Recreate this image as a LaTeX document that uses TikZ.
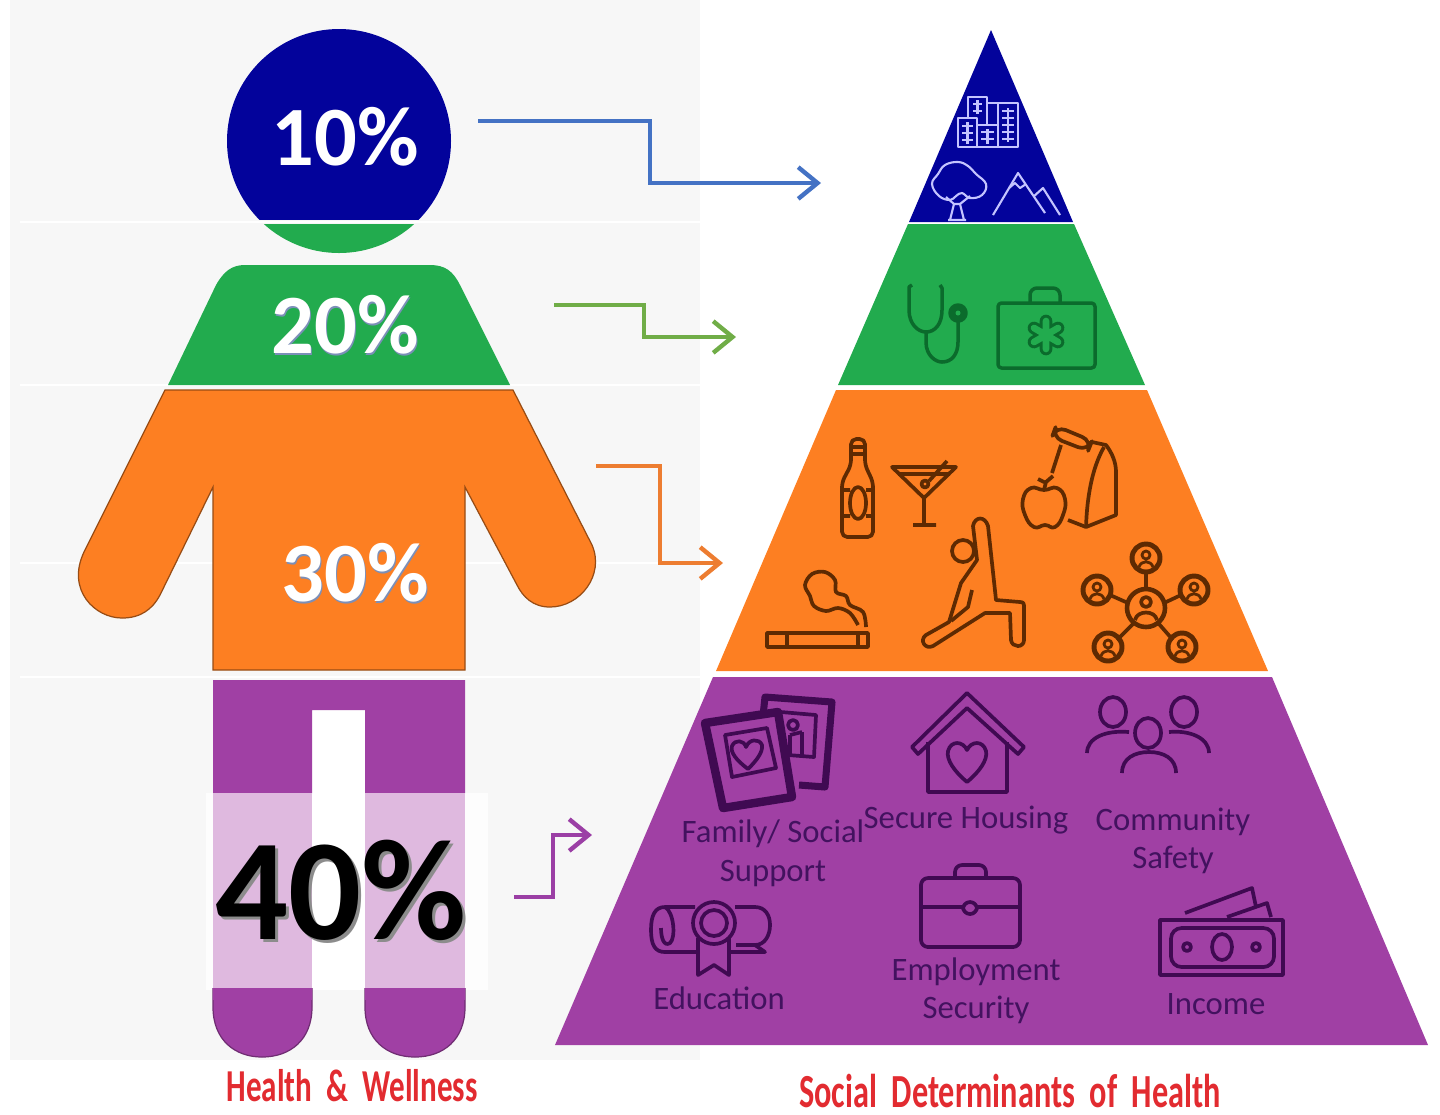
\documentclass[tikz,border=0pt]{standalone}
\usepackage{fontspec}
\setmainfont{Carlito}
\newfontfamily\titlefont[FakeStretch=0.68,WordSpace=2]{Carlito}
\usetikzlibrary{arrows.meta}
\definecolor{navy}{HTML}{03039B}
\definecolor{leaf}{HTML}{22AB4E}
\definecolor{tang}{HTML}{FD7F22}
\definecolor{plum}{HTML}{A040A4}
\definecolor{pale}{HTML}{DFB9DF}
\definecolor{bgrey}{HTML}{F7F7F7}
\definecolor{lilac}{HTML}{C4C4FF}
\definecolor{darkleaf}{HTML}{0B6B2C}
\definecolor{darktang}{HTML}{5E2A02}
\definecolor{darkplum}{HTML}{400A52}
\definecolor{textplum}{HTML}{43125F}
\definecolor{shadeblue}{HTML}{7C8FB8}
\definecolor{titlered}{HTML}{E22B30}
\definecolor{arrowblue}{HTML}{4472C4}
\definecolor{arrowgreen}{HTML}{70AD47}
\definecolor{arroworange}{HTML}{ED7D31}
\definecolor{arrowplum}{HTML}{9B3FA5}
\tikzset{
  rim/.style={line width=0.35pt},
  pct/.style={font=\fontsize{24}{24}\selectfont\bfseries,text=white},
  pctshade/.style={font=\fontsize{24}{24}\selectfont\bfseries,text=shadeblue},
  lbl/.style={font=\fontsize{9.3}{10}\selectfont,text=textplum},
  ttl/.style={font=\titlefont\fontsize{13.5}{14}\selectfont\bfseries,text=titlered},
  elbow/.style={line width=1.25pt,-{Straight Barb[length=5.5pt,width=9pt,line width=1.25pt]}},
  iconw/.style={lilac,line width=0.6pt,line join=round},
  icong/.style={darkleaf,line width=1pt,line join=round},
  icono/.style={darktang,line width=1.05pt,line join=round},
  iconp/.style={darkplum,line width=1.05pt,line join=round}
}
\begin{document}
\begin{tikzpicture}[x=0.01cm,y=-0.01cm]
\useasboundingbox (0,0) rectangle (1440,1114);

% backdrop of the figure
\fill[bgrey] (10,0) rectangle (700,1060);
\fill[white!70!bgrey] (206,793) rectangle (488,990);
\fill[white] (312,710) rectangle (365,990);
\draw[white,line width=0.6pt] (20,222) -- (700,222);
\draw[white,line width=0.6pt] (20,385) -- (700,385);
\draw[white,line width=0.6pt] (20,563) -- (700,563);
\draw[white,line width=0.6pt] (20,677) -- (700,677);

% head
\begin{scope}
\clip (339,141) circle (112);
\fill[navy] (220,20) rectangle (460,220);
\fill[leaf] (220,224) rectangle (460,260);
\end{scope}

% shoulders
\fill[leaf] (168,385) -- (216,285) .. controls (224,271) and (232,265) .. (245,265) -- (430,265) .. controls (445,265) and (453,271) .. (460,285) -- (510,385) -- cycle;

% body and arms
\filldraw[fill=tang,draw=tang!60!black,rim] (165,390) -- (84,552)
  .. controls (66,590) and (95,618) .. (122,618)
  .. controls (140,618) and (152,610) .. (160,595)
  -- (213,487) -- (213,670) -- (465,670) -- (465,487) -- (517,585)
  .. controls (523,597) and (533,607) .. (550,607)
  .. controls (580,607) and (605,575) .. (592,545)
  -- (513,390) -- cycle;

% legs
\fill[plum] (213,680) -- (465,680) -- (465,793) -- (365,793) -- (365,710) -- (312,710) -- (312,793) -- (213,793) -- cycle;
\fill[pale] (213,793) rectangle (312,988);
\fill[pale] (365,793) rectangle (465,988);
\filldraw[fill=plum,draw=plum!70!black,rim] (213,988) -- (213,1007) .. controls (213,1040) and (235,1057) .. (262,1057) .. controls (290,1057) and (312,1040) .. (312,1007) -- (312,988);
\filldraw[fill=plum,draw=plum!70!black,rim] (365,988) -- (365,1007) .. controls (365,1040) and (387,1057) .. (415,1057) .. controls (443,1057) and (465,1040) .. (465,1007) -- (465,988);
\fill[plum] (213,988) rectangle (312,1000);
\fill[plum] (365,988) rectangle (465,1000);

% percentages
\node[pct] (pctten) at (345,137) {10\%};
\node[pctshade] (shadetwenty) at (346.5,327) {20\%};
\node[pct] (pcttwenty) at (345,325) {20\%};
\node[pctshade] (shadethirty) at (356.5,575) {30\%};
\node[pct] (pctthirty) at (355,573) {30\%};
\node[font=\fontsize{41}{41}\selectfont\bfseries,text=black!45] (shadeforty) at (344,893) {40\%};
\node[font=\fontsize{41}{41}\selectfont\bfseries] (pctforty) at (341,890) {40\%};

% pyramid
\fill[navy] (991,30) -- (1073,222) -- (909,222) -- cycle;
\fill[leaf] (908,224) -- (1074,224) -- (1145,385) -- (838,385) -- cycle;
\fill[tang] (836,390) -- (1147,390) -- (1268,671) -- (716,671) -- cycle;
\fill[plum] (713,677) -- (1272,677) -- (1428,1045) -- (555,1045) -- cycle;

% connectors
\coordinate (tenout) at (478,121);
\coordinate (tenbend) at (650,183);
\coordinate (tenin) at (821,183);
\coordinate (twentyout) at (554,305);
\coordinate (twentybend) at (644,337);
\coordinate (twentyin) at (736,337);
\coordinate (thirtyout) at (596,466);
\coordinate (thirtybend) at (660,563);
\coordinate (thirtyin) at (723,563);
\coordinate (fortyout) at (514,897);
\coordinate (fortybend) at (553,835);
\coordinate (fortyin) at (592,835);
\draw[elbow,arrowblue] (tenout) -| (tenbend) -- (tenin);
\draw[elbow,arrowgreen] (twentyout) -| (twentybend) -- (twentyin);
\draw[elbow,arroworange] (thirtyout) -| (thirtybend) -- (thirtyin);
\draw[elbow,arrowplum] (fortyout) -| (fortybend) -- (fortyin);

% buildings
\draw[iconw] (968,118) -- (968,97) -- (987,97) -- (987,103) -- (998,103);
\draw[iconw] (973,104) -- (982,104) (973,111) -- (982,111) (977.5,100) -- (977.5,114);
\draw[iconw] (987,103) -- (987,125);
\draw[iconw] (998,125) -- (998,103) -- (1018,103) -- (1018,147) -- (958,147) -- (958,118) -- (977,118) -- (977,147);
\draw[iconw] (977,125) -- (998,125) -- (998,147);
\draw[iconw] (962,126) -- (973,126) (962,133) -- (973,133) (962,140) -- (973,140) (967.5,122) -- (967.5,144);
\draw[iconw] (981,132) -- (994,132) (981,139) -- (994,139) (987.5,129) -- (987.5,144);
\draw[iconw] (1002,111) -- (1014,111) (1002,118) -- (1014,118) (1002,125) -- (1014,125) (1002,132) -- (1014,132) (1002,139) -- (1014,139);
\draw[iconw] (1008,108) -- (1008,142);

% tree and mountains
\draw[iconw] plot[smooth cycle,tension=0.7] coordinates {(950,200) (939,196) (932,184) (938,174) (945,165) (958,162) (968,166) (976,174) (986,184) (982,195) (970,198) (962,193) (956,196)};
\draw[iconw] (950,220) -- (954,204) -- (946,197) (964,220) -- (960,204) -- (970,196) (954,204) -- (960,204) (948,220) -- (966,220);
\draw[iconw] (993,215) -- (1018,173) -- (1045,213) (1033,197) -- (1043,188) -- (1060,215);
\draw[iconw] (1009,188) -- (1015,183) -- (1020,188) -- (1026,184);

% stethoscope
\draw[icong] (912,285) -- (909,287) -- (909,310) .. controls (909,324) and (918,332) .. (926,332) .. controls (935,332) and (942,324) .. (942,310) -- (942,288) -- (940,285);
\draw[icong] (926,332) -- (926,342) .. controls (926,356) and (936,362) .. (942,362) .. controls (952,362) and (958,354) .. (958,342) -- (958,322);
\filldraw[icong,fill=darkleaf] (958,313) circle (8);
\fill[leaf] (958,313) circle (2.5);

% medical bag
\draw[icong,rounded corners=1pt] (998,303) rectangle (1095,368);
\draw[icong,rounded corners=2pt] (1030,303) -- (1030,288) -- (1060,288) -- (1060,303);
\draw[darkleaf,line width=3.6pt,line cap=round] (1046,321) -- (1046,349) (1034,328) -- (1058,342) (1034,342) -- (1058,328);
\draw[leaf,line width=1.9pt,line cap=round] (1046,321) -- (1046,349) (1034,328) -- (1058,342) (1034,342) -- (1058,328);

% bottle and glass
\draw[icono,rounded corners=1.5pt] (851,439) -- (865,439) -- (865,465) -- (873,482) -- (873,537) -- (842,537) -- (842,482) -- (851,465) -- cycle;
\draw[icono] (851,447) -- (865,447) (851,454) -- (865,454);
\draw[icono] (858,503) ellipse (8 and 16) (842,490) -- (850,490) (866,490) -- (873,490) (842,516) -- (850,516) (866,516) -- (873,516);
\draw[icono] (892,467) -- (956,467) -- (924,498) -- cycle (898,474) -- (950,474);
\draw[icono] (924,498) -- (924,525) (913,525) -- (936,525) (947,461) -- (929,481);
\draw[icono] (925,484) circle (3.5);

% apple and lunch bag
\draw[icono] plot[smooth cycle,tension=0.8] coordinates {(1044,490) (1057,488) (1065,499) (1063,515) (1055,527) (1045,525) (1034,527) (1025,515) (1023,499) (1031,488)};
\draw[icono] (1044,490) -- (1046,482) -- (1053,476) (1044,482) -- (1038,479);
\draw[icono,rounded corners=3pt] (1056,426) -- (1092,441) -- (1088,451) -- (1052,437) -- cycle;
\draw[icono] (1061,445) -- (1052,473);
\draw[icono] (1092,442) -- (1106,445) .. controls (1112,453) and (1116,462) .. (1116,472) -- (1116,515) -- (1086,527) -- (1068,520);
\draw[icono] (1104,447) .. controls (1092,468) and (1087,497) .. (1086,527);

% yoga figure
\draw[icono] (963,551) circle (11);
\draw[icono] (973,526) .. controls (975,516) and (985,516) .. (988,526) -- (996,600) -- (1020,602) .. controls (1024,602) and (1024,604) .. (1024,608) -- (1024,640) .. controls (1024,648) and (1012,648) .. (1011,640) -- (1010,613) -- (985,613) -- (933,646) .. controls (925,650) and (919,640) .. (926,635) -- (949,622) -- (961,583) -- (977,560) -- cycle;
\draw[icono] (972,590) -- (968,607) -- (951,621);

% cigarette
\draw[icono] (767,633) rectangle (868,647);
\draw[icono] (787,633) -- (787,647) (858,633) -- (858,647);
\draw[icono] plot[smooth,tension=0.6] coordinates {(866,627) (863,612) (850,605) (846,596) (836,592) (835,580) (825,572) (812,574) (805,585) (810,596) (814,606) (826,611) (838,608) (850,613) (858,625)};

% network of people
\draw[icono] (1146,590) -- (1146,572) (1128,603) -- (1110,595) (1164,603) -- (1181,595) (1133,624) -- (1117,640) (1159,624) -- (1173,640);
\draw[icono,line width=1.3pt] (1146,608) circle (19);
\draw[icono] (1146,602) circle (5) (1135,620) .. controls (1137,610) and (1155,610) .. (1157,620);
\foreach \px/\py in {1146/558,1097/590,1194/590,1108/647,1182/647} {
  \draw[icono,line width=1.4pt] (\px,\py) circle (14);
  \draw[icono,line width=0.8pt] (\px,\py-3) circle (4) (\px-7,\py+9) .. controls (\px-5,\py+2) and (\px+5,\py+2) .. (\px+7,\py+9);
}

% photo frames
\draw[iconp,line width=2pt] (763,716) -- (765,697) -- (832,702) -- (825,787) -- (799,785);
\draw[iconp] (781,712) -- (816,715) -- (814,757) -- (788,755);
\draw[iconp] (793,725) circle (5) (790,735) -- (790,755) (802,732) -- (802,755) (790,735) -- (802,732);
\draw[iconp,line width=2.4pt] (705,723) -- (778,712) -- (792,797) -- (723,808) -- cycle;
\draw[iconp] (725,735) -- (767,728) -- (776,768) -- (732,777) -- cycle;
\draw[iconp] (748,769) .. controls (736,760) and (730,752) .. (732,746) .. controls (735,739) and (744,740) .. (746,747) .. controls (749,739) and (759,738) .. (762,745) .. controls (763,752) and (757,760) .. (748,769) -- cycle;

% house
\draw[iconp] (967,693) -- (1024,747) -- (1018,754) -- (967,708) -- (918,754) -- (912,747) -- cycle;
\draw[iconp] (928,742) -- (928,792) -- (1007,792) -- (1007,742);
\draw[iconp] (967,782) .. controls (955,772) and (946,760) .. (948,751) .. controls (951,740) and (963,741) .. (967,750) .. controls (971,741) and (983,740) .. (986,751) .. controls (988,760) and (979,772) .. (967,782) -- cycle;

% community
\draw[iconp] (1113,712) ellipse (13 and 15) (1184,712) ellipse (13 and 15) (1148,733) ellipse (13 and 15);
\draw[iconp] (1087,753) .. controls (1087,738) and (1105,730) .. (1129,732);
\draw[iconp] (1169,732) .. controls (1190,730) and (1209,738) .. (1209,753);
\draw[iconp] (1122,773) .. controls (1122,758) and (1135,752) .. (1149,752) .. controls (1163,752) and (1176,758) .. (1176,773);

% diploma
\draw[iconp] (695,907) -- (665,907) .. controls (655,907) and (651,915) .. (651,930) .. controls (651,945) and (655,952) .. (665,952) -- (698,952);
\draw[iconp] (665,907) .. controls (674,912) and (676,938) .. (670,943) .. controls (664,947) and (661,938) .. (661,928);
\draw[iconp] (735,907) -- (755,907) .. controls (765,907) and (770,915) .. (770,925) .. controls (770,935) and (765,945) .. (755,945) -- (736,945);
\draw[iconp] (730,952) -- (765,952) -- (755,945);
\draw[iconp] (714,923) circle (21) (714,923) circle (13);
\draw[iconp] (698,938) -- (698,975) -- (714,965) -- (729,975) -- (729,938);

% briefcase
\draw[iconp,rounded corners=2pt] (921,878) rectangle (1020,947);
\draw[iconp,rounded corners=2pt] (955,878) -- (955,865) -- (986,865) -- (986,878);
\draw[iconp] (921,907) -- (963,907) (977,907) -- (1020,907);
\draw[iconp,rounded corners=2pt] (963,902) rectangle (977,914);

% banknotes
\draw[iconp] (1160,920) rectangle (1283,975);
\draw[iconp,rounded corners=3pt] (1171,928) rectangle (1274,967);
\draw[iconp] (1222,947) ellipse (10 and 13) (1187,947) circle (4) (1256,947) circle (4);
\draw[iconp] (1185,913) -- (1252,888) -- (1256,907) (1227,917) -- (1267,903) -- (1271,917);

% labels in the pyramid
\node[lbl] (family) at (773,834) {Family/ Social};
\node[lbl] (support) at (773,873) {Support};
\node[lbl] (housing) at (966,820) {Secure Housing};
\node[lbl] (community) at (1173,822) {Community};
\node[lbl] (safety) at (1173,860) {Safety};
\node[lbl] (education) at (719,998) {Education};
\node[lbl] (employment) at (976,972) {Employment};
\node[lbl] (security) at (976,1010) {Security};
\node[lbl] (income) at (1216,1004) {Income};

% titles
\node[ttl,font=\titlefont\fontsize{13}{14}\selectfont\bfseries] (wellness) at (352,1086) {Health \& Wellness};
\node[ttl] (determinants) at (1010,1091) {Social Determinants of Health};

\end{tikzpicture}
\end{document}
